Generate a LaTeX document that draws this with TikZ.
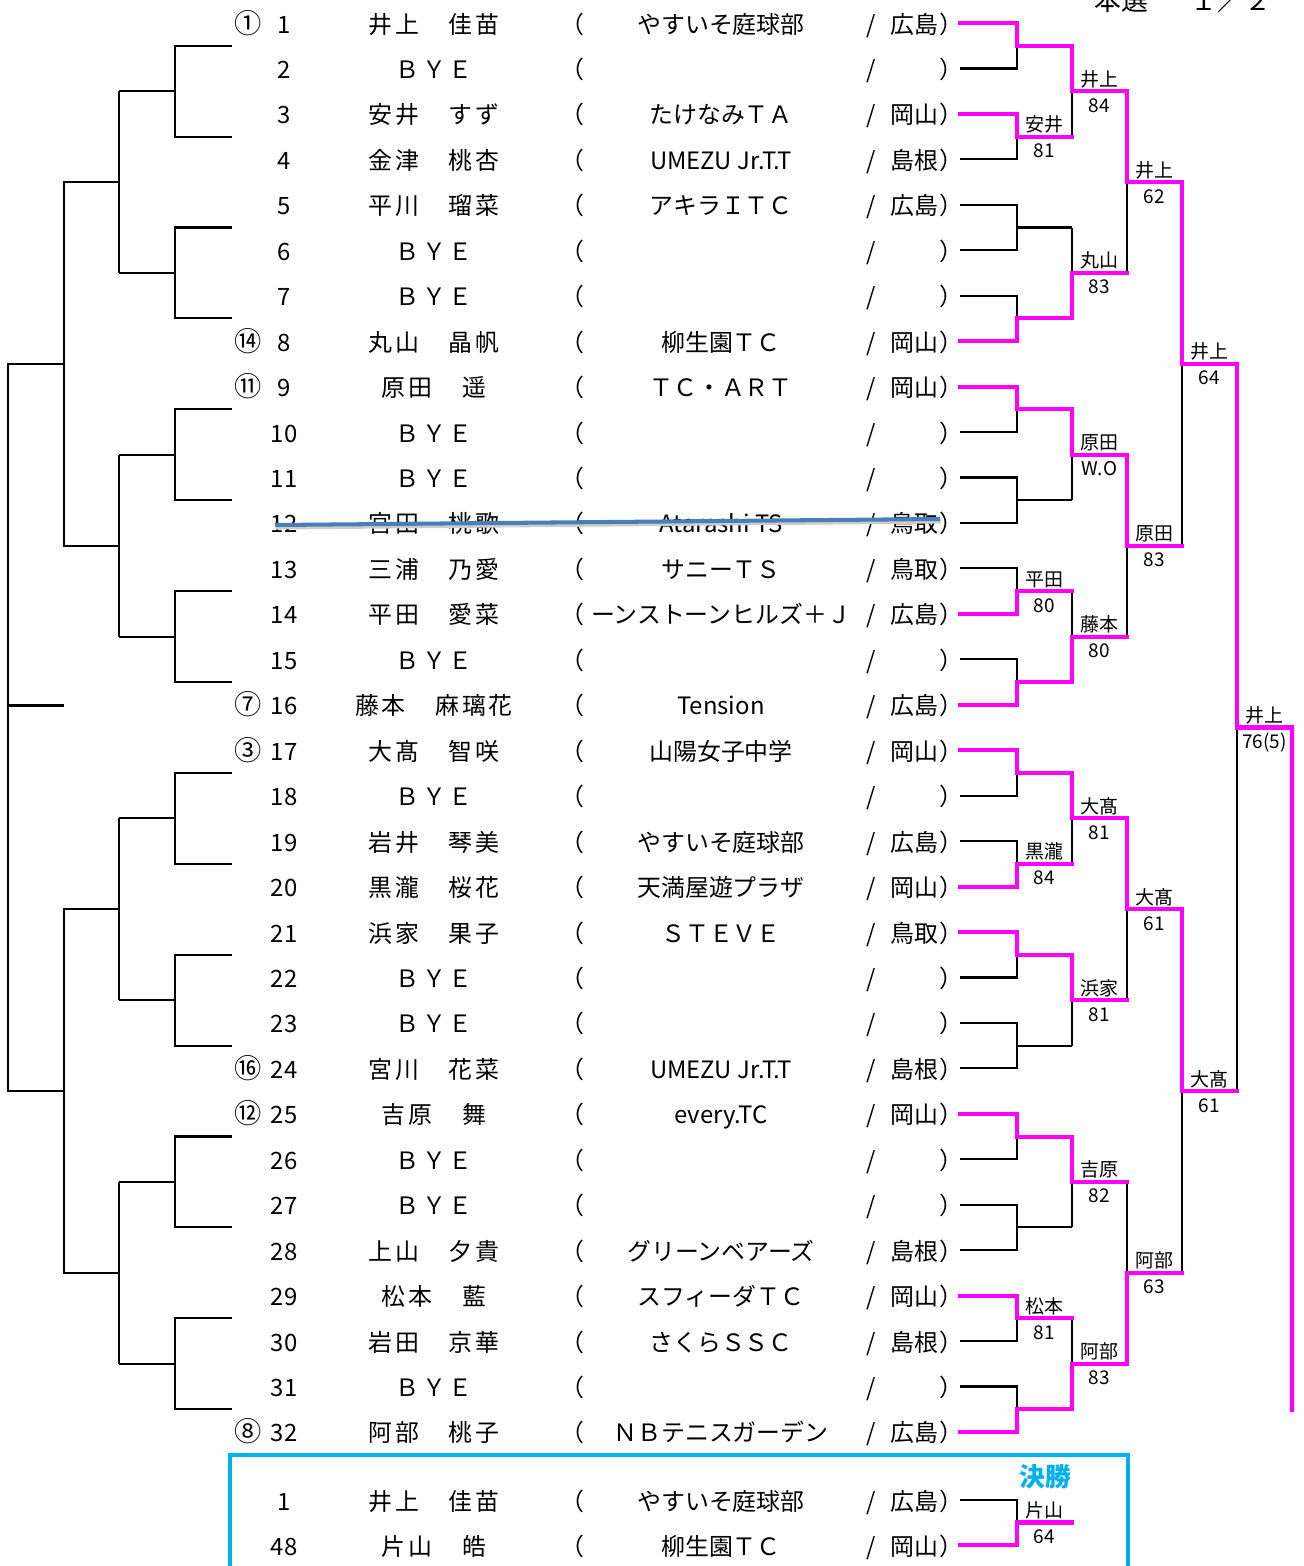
\documentclass[tikz,border=0pt]{standalone}
\usepackage{fontspec}
\setmainfont{Noto Sans CJK JP}
\newfontfamily\namefont[LetterSpace=12]{Noto Sans CJK JP}
\usetikzlibrary{calc}
\definecolor{winline}{HTML}{FF00FF}
\definecolor{finalblue}{HTML}{00B0F0}
\definecolor{strikeblue}{HTML}{4A7EBB}
\pgfdeclarelayer{back}
\pgfsetlayers{back,main}

\begin{document}
\begin{tikzpicture}[
		x=0.02cm, y=-0.02cm,
		font=\fontsize{13.6pt}{16pt}\selectfont,
		txt/.style={anchor=base, inner sep=0pt},
		seed/.style={txt, font=\fontsize{15.5pt}{18pt}\selectfont},
		nm/.style={txt, font=\namefont\fontsize{13.6pt}{16pt}\selectfont},
		lbl/.style={anchor=base, inner sep=0pt, font=\fontsize{10.8pt}{12pt}\selectfont},
		ln/.style={line width=1.2pt},
		win/.style={draw=winline, line width=2.3pt, line cap=rect},
		finbox/.style={draw=finalblue, line width=2.5pt}
	]
	\useasboundingbox (0,0) rectangle (1304,1566);
	\node[txt, font=\fontsize{15.3pt}{18pt}\selectfont] (ttl) at (1121,10) {本選};
	\node[txt, font=\fontsize{15.3pt}{18pt}\selectfont] (pg) at (1231,10) {１／２};

	% entries
	\foreach \i/\sd/\nm/\cl/\pf in {
		1/①/井上　佳苗/やすいそ庭球部/広島,
		2/{}/ＢＹＥ/{}/{},
		3/{}/安井　すず/たけなみＴＡ/岡山,
		4/{}/金津　桃杏/UMEZU Jr.T.T/島根,
		5/{}/平川　瑠菜/アキラＩＴＣ/広島,
		6/{}/ＢＹＥ/{}/{},
		7/{}/ＢＹＥ/{}/{},
		8/⑭/丸山　晶帆/柳生園ＴＣ/岡山,
		9/⑪/原田　遥/ＴＣ・ＡＲＴ/岡山,
		10/{}/ＢＹＥ/{}/{},
		11/{}/ＢＹＥ/{}/{},
		12/{}/宮田　桃歌/Atarashi TS/鳥取,
		13/{}/三浦　乃愛/サニーＴＳ/鳥取,
		14/{}/平田　愛菜/ーンストーンヒルズ＋Ｊ/広島,
		15/{}/ＢＹＥ/{}/{},
		16/⑦/藤本　麻璃花/Tension/広島,
		17/③/大髙　智咲/山陽女子中学/岡山,
		18/{}/ＢＹＥ/{}/{},
		19/{}/岩井　琴美/やすいそ庭球部/広島,
		20/{}/黒瀧　桜花/天満屋遊プラザ/岡山,
		21/{}/浜家　果子/ＳＴＥＶＥ/鳥取,
		22/{}/ＢＹＥ/{}/{},
		23/{}/ＢＹＥ/{}/{},
		24/⑯/宮川　花菜/UMEZU Jr.T.T/島根,
		25/⑫/吉原　舞/every.TC/岡山,
		26/{}/ＢＹＥ/{}/{},
		27/{}/ＢＹＥ/{}/{},
		28/{}/上山　夕貴/グリーンベアーズ/島根,
		29/{}/松本　藍/スフィーダＴＣ/岡山,
		30/{}/岩田　京華/さくらＳＳＣ/島根,
		31/{}/ＢＹＥ/{}/{},
		32/⑧/阿部　桃子/ＮＢテニスガーデン/広島}{
		\pgfmathsetmacro\ry{23+(\i-1)*45.45}
		\node[seed] (sd\i) at (248,\ry+10) {\sd};
		\node[txt] (no\i) at (284,\ry+10) {\i};
		\node[nm] (nm\i) at (434,\ry+10) {\nm};
		\node[txt] (lp\i) at (572,\ry+10) {（};
		\node[txt] (cl\i) at (721,\ry+10) {\cl};
		\node[txt] (sl\i) at (871,\ry+10) {/};
		\node[txt] (pf\i) at (914,\ry+10) {\pf};
		\node[txt] (rp\i) at (951,\ry+10) {）};
		\coordinate (p0-\i) at (960,\ry);
	}

	% results
	\foreach \rd/\m/\wi/\wn/\scr in {
		1/1/1/{}/{}, 1/2/1/安井/81, 1/3/0/{}/{}, 1/4/2/{}/{},
		1/5/1/{}/{}, 1/6/0/{}/{}, 1/7/2/平田/80, 1/8/2/{}/{},
		1/9/1/{}/{}, 1/10/2/黒瀧/84, 1/11/1/{}/{}, 1/12/0/{}/{},
		1/13/1/{}/{}, 1/14/0/{}/{}, 1/15/1/松本/81, 1/16/2/{}/{},
		2/1/1/井上/84, 2/2/2/丸山/83, 2/3/1/原田/W.O, 2/4/2/藤本/80,
		2/5/1/大髙/81, 2/6/1/浜家/81, 2/7/1/吉原/82, 2/8/2/阿部/83,
		3/1/1/井上/62, 3/2/1/原田/83, 3/3/1/大髙/61, 3/4/2/阿部/63,
		4/1/1/井上/64, 4/2/1/大髙/61,
		5/1/1/井上/76(5)}{
		\pgfmathtruncatemacro\rp{\rd-1}
		\pgfmathtruncatemacro\ia{2*\m-1}
		\pgfmathtruncatemacro\ib{2*\m}
		\pgfmathsetmacro\dx{\rd==1 ? 57 : 0}
		\coordinate (j\rd-\m) at ($(p\rp-\ia)!.5!(p\rp-\ib)+(\dx,0)$);
		\coordinate (p\rd-\m) at ($(j\rd-\m)+(55,0)$);
		\begin{pgfonlayer}{back}
			\draw[ln] (p\rp-\ia) -| (j\rd-\m) |- (p\rp-\ib) (j\rd-\m) -- (p\rd-\m);
		\end{pgfonlayer}
		\ifcase\wi\relax
		\or \draw[win] (p\rp-\ia) -| (j\rd-\m) -- (p\rd-\m);
		\or \draw[win] (p\rp-\ib) -| (j\rd-\m) -- (p\rd-\m);
		\fi
		\node[lbl] (w\rd-\m) at ($(j\rd-\m)!.5!(p\rd-\m)+(0,-5)$) {\wn};
		\node[lbl] (s\rd-\m) at ($(j\rd-\m)!.5!(p\rd-\m)+(0,21)$) {\scr};
	}
	\coordinate (tail) at (1292,1410);
	\draw[win] (p5-1) -- (tail);

	% final
	\foreach \i/\ry/\no/\nm/\cl/\pf in {
		f1/1500/1/井上　佳苗/やすいそ庭球部/広島,
		f2/1545/48/片山　皓/柳生園ＴＣ/岡山}{
		\node[txt] (no\i) at (284,\ry+10) {\no};
		\node[nm] (nm\i) at (434,\ry+10) {\nm};
		\node[txt] (lp\i) at (572,\ry+10) {（};
		\node[txt] (cl\i) at (721,\ry+10) {\cl};
		\node[txt] (sl\i) at (871,\ry+10) {/};
		\node[txt] (pf\i) at (914,\ry+10) {\pf};
		\node[txt] (rp\i) at (951,\ry+10) {）};
		\coordinate (p0-\i) at (960,\ry);
	}
	\coordinate (jfin) at ($(p0-f1)!.5!(p0-f2)+(57,0)$);
	\coordinate (pfin) at ($(jfin)+(55,0)$);
	\draw[ln] (p0-f1) -| (jfin) |- (p0-f2);
	\draw[win] (p0-f2) -| (jfin) -- (pfin);
	\node[lbl] (wfin) at ($(jfin)!.5!(pfin)+(0,-5)$) {片山};
	\node[lbl] (sfin) at ($(jfin)!.5!(pfin)+(0,21)$) {64};
	\node[txt, text=finalblue, font=\bfseries\fontsize{14.7pt}{17pt}\selectfont] (kessho) at (1045,1486) {決勝};
	\coordinate (b1) at (230,1570);
	\coordinate (b2) at (1128,1455);
	\coordinate (b3) at (1128,1570);
	\draw[finbox] (b1) |- (b2) -- (b3);

	% left draw
	\foreach \m in {1,...,16}{
		\pgfmathsetmacro\ry{23+(2*\m-1.5)*45.45}
		\coordinate (l0-\m) at (232,\ry);
	}
	\foreach \rd/\cnt in {1/8,2/4,3/2,4/1}{
		\foreach \m in {1,...,\cnt}{
			\pgfmathtruncatemacro\rp{\rd-1}
			\pgfmathtruncatemacro\ia{2*\m-1}
			\pgfmathtruncatemacro\ib{2*\m}
			\pgfmathsetmacro\dx{\rd==1 ? -57 : 0}
			\coordinate (k\rd-\m) at ($(l\rp-\ia)!.5!(l\rp-\ib)+(\dx,0)$);
			\coordinate (l\rd-\m) at ($(k\rd-\m)+(-55.7,0)$);
			\draw[ln] (l\rp-\ia) -| (k\rd-\m) |- (l\rp-\ib);
			\ifnum\rd<4 \draw[ln] (k\rd-\m) -- (l\rd-\m); \fi
		}
	}
	\coordinate (stub) at (8,705.5);
	\draw[ln] (stub) -- ++(56,0);

	% withdrawn
	\coordinate (st1) at (275,525);
	\coordinate (st2) at (940,519);
	\draw[black!20, line width=2.3pt] ($(st1)+(1,2.5)$) -- ($(st2)+(1,2.5)$);
	\draw[strikeblue, line width=2.3pt] (st1) -- (st2);
\end{tikzpicture}
\end{document}
